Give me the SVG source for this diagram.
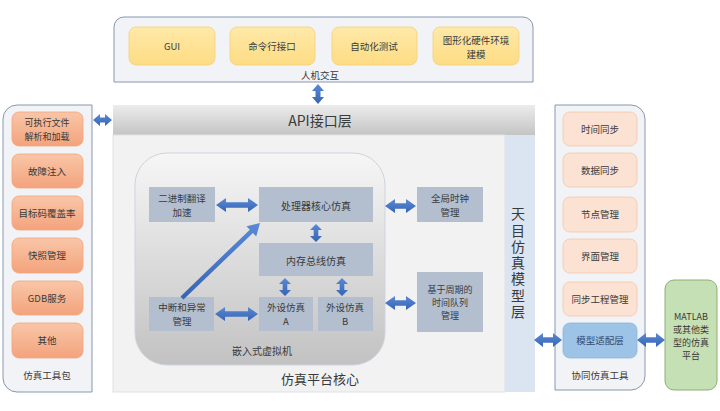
<svg xmlns="http://www.w3.org/2000/svg" width="720" height="411" viewBox="0 0 720 411">
<defs>
<linearGradient id="gApi" x1="0" y1="0" x2="0" y2="1"><stop offset="0" stop-color="#ececec"/><stop offset="1" stop-color="#c4c4c4"/></linearGradient>
<linearGradient id="gVm" x1="0" y1="0" x2="0" y2="1"><stop offset="0" stop-color="#f6f6f6"/><stop offset="1" stop-color="#c2c2c2"/></linearGradient>
<linearGradient id="gOr" x1="0" y1="0" x2="0" y2="1"><stop offset="0" stop-color="#f9c6a8"/><stop offset="1" stop-color="#f3a37c"/></linearGradient>
<linearGradient id="gYe" x1="0" y1="0" x2="0" y2="1"><stop offset="0" stop-color="#ffe9a8"/><stop offset="1" stop-color="#fddc84"/></linearGradient>
<linearGradient id="gAr" x1="0" y1="0" x2="0" y2="1"><stop offset="0" stop-color="#5a8ad6"/><stop offset="1" stop-color="#3564b4"/></linearGradient>
</defs>
<style>
text{font-family:"Noto Sans CJK SC","Noto Sans",sans-serif;fill:#3a3a3a;text-anchor:middle;dominant-baseline:central}
.s{font-size:9.5px}
.m{font-size:10px}
.t{font-size:9.5px}
.u{font-size:9px}
.yb{fill:url(#gYe);stroke:#f3cf78;stroke-width:0.8}
.ob{fill:url(#gOr);stroke:#f0a57e;stroke-width:0.8}
.pb{fill:#fbe2d3;stroke:#f3c6aa;stroke-width:0.8}
.gb{fill:#b3bfcf}
.panel{fill:#f2f3f6;stroke:#8597b0;stroke-width:1}
.ar{fill:url(#gAr)}
</style>

<g id="human">
<path class="panel" d="M114,82 V27 A10,10 0 0 1 124,17 H523 A10,10 0 0 1 533,27 V82 Z"/>
<text class="s" x="320" y="75">人机交互</text>
</g>
<g id="gui"><rect class="yb" x="129" y="27" width="86" height="38" rx="7"/><text class="s" x="172" y="46">GUI</text></g>
<g id="cli"><rect class="yb" x="230" y="27" width="85" height="38" rx="7"/><text class="s" x="272" y="46">命令行接口</text></g>
<g id="autotest"><rect class="yb" x="332" y="27" width="85" height="38" rx="7"/><text class="s" x="374" y="46">自动化测试</text></g>
<g id="hwmodel"><rect class="yb" x="433" y="27" width="86" height="38" rx="7"/><text class="t" x="476" y="39.5">图形化硬件环境<tspan x="476" dy="14">建模</tspan></text></g>

<g id="api"><rect x="113" y="105" width="422" height="30" fill="url(#gApi)"/><text x="320" y="120" style="font-size:14px">API接口层</text></g>

<g id="core">
<rect x="113" y="135" width="392" height="257" fill="#f2f2f3" stroke="#dde1e7" stroke-width="1"/>
<text x="320" y="378" style="font-size:13px">仿真平台核心</text>
</g>
<g id="modellayer">
<rect x="505" y="135" width="30" height="257" fill="#dbe5f1"/>
<text x="518" y="264" style="font-size:14px;writing-mode:vertical-rl;letter-spacing:2.3px">天目仿真模型层</text>
</g>

<g id="vm">
<rect x="135" y="153" width="250" height="212" rx="32" fill="url(#gVm)" stroke="#cdd4de" stroke-width="1"/>
<text class="m" x="262" y="350">嵌入式虚拟机</text>
</g>
<g id="bt"><rect class="gb" x="149" y="187" width="66" height="35"/><text class="t" x="182" y="197.5">二进制翻译<tspan x="182" dy="14">加速</tspan></text></g>
<g id="cpu"><rect class="gb" x="259" y="187" width="114" height="35"/><text class="m" x="316" y="205">处理器核心仿真</text></g>
<g id="clock"><rect class="gb" x="417" y="187" width="66" height="35"/><text class="t" x="450" y="197.5">全局时钟<tspan x="450" dy="14">管理</tspan></text></g>
<g id="membus"><rect class="gb" x="259" y="243" width="114" height="33"/><text class="m" x="316" y="260">内存总线仿真</text></g>
<g id="irq"><rect class="gb" x="149" y="297" width="65" height="34"/><text class="t" x="182" y="307">中断和异常<tspan x="182" dy="14">管理</tspan></text></g>
<g id="periA"><rect class="gb" x="259" y="297" width="54" height="34"/><text class="t" x="286" y="307">外设仿真<tspan x="286" dy="14">A</tspan></text></g>
<g id="periB"><rect class="gb" x="318" y="297" width="55" height="34"/><text class="t" x="345" y="307">外设仿真<tspan x="345" dy="14">B</tspan></text></g>
<g id="queue"><rect class="gb" x="417" y="272" width="66" height="60"/><text class="u" x="450" y="289">基于周期的<tspan x="450" dy="13">时间队列</tspan><tspan x="450" dy="13">管理</tspan></text></g>

<g id="toolkit">
<path class="panel" d="M92,105 H17 A14,14 0 0 0 3,119 V378 A14,14 0 0 0 17,392 H92 Z"/>
<text class="s" x="47" y="375">仿真工具包</text>
</g>
<g id="loader"><rect class="ob" x="12" y="112" width="71" height="34" rx="7"/><text class="u" x="47" y="122.5">可执行文件<tspan x="47" dy="13">解析和加载</tspan></text></g>
<g id="fault"><rect class="ob" x="12" y="154" width="71" height="34" rx="7"/><text class="s" x="47" y="171">故障注入</text></g>
<g id="coverage"><rect class="ob" x="12" y="196" width="71" height="34" rx="7"/><text class="s" x="47" y="213">目标码覆盖率</text></g>
<g id="snapshot"><rect class="ob" x="12" y="238" width="71" height="35" rx="7"/><text class="s" x="47" y="255">快照管理</text></g>
<g id="gdb"><rect class="ob" x="12" y="281" width="71" height="34" rx="7"/><text class="s" x="47" y="298">GDB服务</text></g>
<g id="other"><rect class="ob" x="12" y="323" width="71" height="35" rx="7"/><text class="s" x="47" y="340">其他</text></g>

<g id="cosim">
<path class="panel" d="M555,105 H631 A14,14 0 0 1 645,119 V376 A14,14 0 0 1 631,390 H555 Z"/>
<text class="s" x="600" y="375">协同仿真工具</text>
</g>
<g id="timesync"><rect class="pb" x="563" y="112" width="74" height="34" rx="7"/><text class="s" x="600" y="129">时间同步</text></g>
<g id="datasync"><rect class="pb" x="563" y="153" width="74" height="34" rx="7"/><text class="s" x="600" y="170">数据同步</text></g>
<g id="node"><rect class="pb" x="563" y="197" width="74" height="35" rx="7"/><text class="s" x="600" y="214">节点管理</text></g>
<g id="ui"><rect class="pb" x="563" y="239" width="74" height="34" rx="7"/><text class="s" x="600" y="256">界面管理</text></g>
<g id="project"><rect class="pb" x="563" y="282" width="74" height="34" rx="7"/><text class="s" x="600" y="299">同步工程管理</text></g>
<g id="adapter"><rect x="563" y="323" width="74" height="35" rx="7" fill="#9dc3e6" stroke="#8ab4dc" stroke-width="0.8"/><text class="s" x="600" y="340" style="fill:#2f4a72">模型适配层</text></g>

<g id="matlab"><rect x="665" y="280" width="52" height="110" rx="9" fill="#c5e0b4" stroke="#8fae72" stroke-width="1"/>
<text class="u" x="691" y="316">MATLAB<tspan x="691" dy="13">或其他类</tspan><tspan x="691" dy="13">型的仿真</tspan><tspan x="691" dy="13">平台</tspan></text></g>

<g id="connectors">
<polygon class="ar" points="318,84 324,91 320.5,91 320.5,97 324,97 318,104 312,97 315.5,97 315.5,91 312,91"/>
<polygon class="ar" points="93,120 100,114 100,117.5 105,117.5 105,114 112,120 105,126 105,122.5 100,122.5 100,126"/>
<polygon class="ar" points="216,205 226,198 226,202.3 248,202.3 248,198 258,205 248,212 248,207.7 226,207.7 226,212"/>
<polygon class="ar" points="385,206 395,199 395,203.3 406,203.3 406,199 416,206 406,213 406,208.7 395,208.7 395,213"/>
<polygon class="ar" points="316,224 322,230 318.3,230 318.3,236 322,236 316,242 310,236 313.7,236 313.7,230 310,230"/>
<polygon class="ar" points="285,278 291,284 287.3,284 287.3,290 291,290 285,296 279,290 282.7,290 282.7,284 279,284"/>
<polygon class="ar" points="342,278 348,284 344.3,284 344.3,290 348,290 342,296 336,290 339.7,290 339.7,284 336,284"/>
<polygon class="ar" points="215,314 225,307 225,311.3 248,311.3 248,307 258,314 248,321 248,316.7 225,316.7 225,321"/>
<polygon class="ar" points="385,303 395,296 395,300.3 406,300.3 406,296 416,303 406,310 406,305.7 395,305.7 395,310"/>
<polygon class="ar" points="534,340 543,333 543,337.3 553,337.3 553,333 562,340 553,347 553,342.7 543,342.7 543,347"/>
<polygon class="ar" points="637,340 646,333 646,337.3 656,337.3 656,333 665,340 656,347 656,342.7 646,342.7 646,347"/>
<polygon class="ar" points="260,223 256.2,236.4 252.9,232.9 183.5,299.6 180.5,296.4 249.8,229.7 246.5,226.3"/>
</g>
</svg>
